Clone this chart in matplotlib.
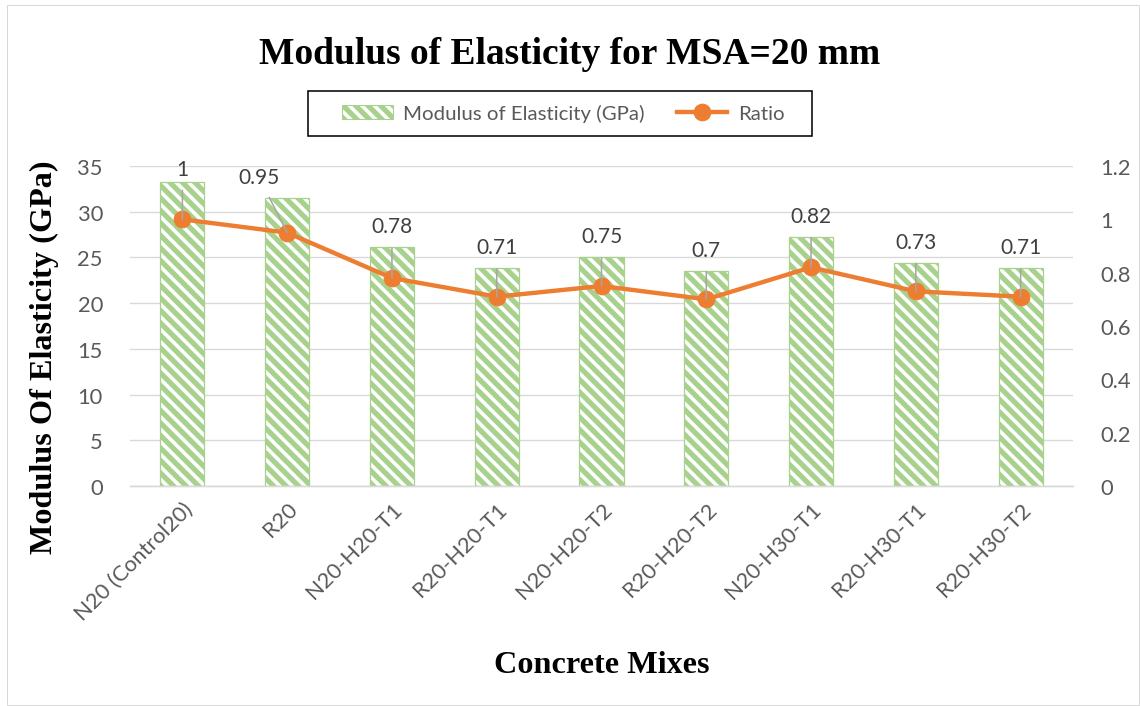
#!/usr/bin/env python3
"""
Modulus of elasticity bars with ratio line for MSA = 20 mm mixes.
"""

import matplotlib
matplotlib.use("Agg")
import matplotlib.pyplot as plt
from matplotlib.lines import Line2D
from matplotlib.patches import Patch, Rectangle

mixes = ["N20 (Control20)", "R20", "N20-H20-T1", "R20-H20-T1", "N20-H20-T2",
         "R20-H20-T2", "N20-H30-T1", "R20-H30-T1", "R20-H30-T2"]
modulus_gpa = [33.2, 31.5, 26.1, 23.8, 25.0, 23.5, 27.2, 24.4, 23.8]
ratio = [1.0, 0.95, 0.78, 0.71, 0.75, 0.70, 0.82, 0.73, 0.71]
ratio_labels = ["1", "0.95", "0.78", "0.71", "0.75", "0.7", "0.82", "0.73", "0.71"]

GREEN = "#A9D18E"
ORANGE = "#ED7D31"
GRAY_TXT = "#595959"
GRID = "#D9D9D9"

plt.rcParams["hatch.linewidth"] = 5.0
plt.rcParams["hatch.color"] = GREEN

DPI = 75
W, H = 1140, 707
fig = plt.figure(figsize=(W / DPI, H / DPI), dpi=DPI)
ax = fig.add_axes([130 / W, 1 - 487 / H, 943 / W, 320 / H])
ax2 = ax.twinx()

x = list(range(len(mixes)))
ax.bar(x, modulus_gpa, width=0.42, color="white", edgecolor=GREEN,
       hatch="\\\\", linewidth=1.2, zorder=2)
ax2.plot(x, ratio, color=ORANGE, linewidth=4.2, marker="o", markersize=16,
         zorder=3)

ax.set_xlim(-0.5, len(mixes) - 0.5)
ax.set_ylim(0, 35)
ax.set_yticks(range(0, 36, 5))
ax2.set_ylim(0, 1.2)
ax2.set_yticks([0, 0.2, 0.4, 0.6, 0.8, 1.0, 1.2], ["0", "0.2", "0.4", "0.6", "0.8", "1", "1.2"])

ax.yaxis.grid(True, color=GRID, linewidth=1.3, zorder=0)
ax.set_axisbelow(True)
for a in (ax, ax2):
    for side in ("top", "left", "right"):
        a.spines[side].set_visible(False)
    a.spines["bottom"].set_color(GRID)
    a.spines["bottom"].set_linewidth(1.3)
    a.tick_params(length=0, labelsize=21, colors=GRAY_TXT, pad=26)
    for lbl in a.get_yticklabels():
        lbl.set_fontfamily("Lato")

ax.set_xticks(x, mixes, rotation=45, ha="right", rotation_mode="anchor",
              fontfamily="Lato", fontsize=21)
ax.tick_params(axis="x", pad=12)

# data labels with leader lines
label_dx = [0, -0.27, 0, 0, 0, 0, 0, 0, 0]
for i, (r, m, s, dx) in enumerate(zip(ratio, modulus_gpa, ratio_labels, label_dx)):
    ty = min(m + 2.3, 34.7) / 35 * 1.2
    ax2.annotate(s, xy=(i, r), xytext=(i + dx, ty), ha="center", va="center",
                 fontsize=20, color="#404040", fontfamily="Lato", zorder=4,
                 arrowprops=dict(arrowstyle="-", color="#A6A6A6", lw=1.5,
                                 shrinkA=9, shrinkB=0))

ax.set_ylabel("Modulus Of Elasticity (GPa)", fontfamily="Liberation Serif",
              fontweight="bold", fontsize=31)
ax.yaxis.set_label_coords((59 - 130) / 943, (487 - 357) / 320)
ax.set_xlabel("Concrete Mixes", fontfamily="Liberation Serif",
              fontweight="bold", fontsize=31, labelpad=25)
fig.text(0.5, 1 - 55 / H, "Modulus of Elasticity for MSA=20 mm",
         fontfamily="Liberation Serif", fontweight="bold", fontsize=36,
         ha="center", va="center")

handles = [
    Patch(facecolor="white", edgecolor=GREEN, hatch="\\\\", linewidth=1.0),
    Line2D([], [], color=ORANGE, linewidth=4.2, marker="o", markersize=16),
]
leg = fig.legend(handles, ["Modulus of Elasticity (GPa)", "Ratio"],
                 loc="center", bbox_to_anchor=(563 / W, 1 - 114 / H),
                 ncol=2, frameon=False,
                 prop={"family": "Lato", "size": 19.5}, labelcolor=GRAY_TXT,
                 handlelength=2.5, handletextpad=0.5, columnspacing=1.6,
                 borderpad=0.45)
fig.patches.append(Rectangle((308 / W, 1 - 137 / H), 504 / W, 45 / H,
                             transform=fig.transFigure, fill=False,
                             edgecolor="black", linewidth=1.5))

fig.patches.append(Rectangle((7 / W, 0.002), 1 - 8 / W, 0.99,
                             transform=fig.transFigure, fill=False,
                             edgecolor=GRID, linewidth=1.0))

fig.savefig("out.png", dpi=DPI)
